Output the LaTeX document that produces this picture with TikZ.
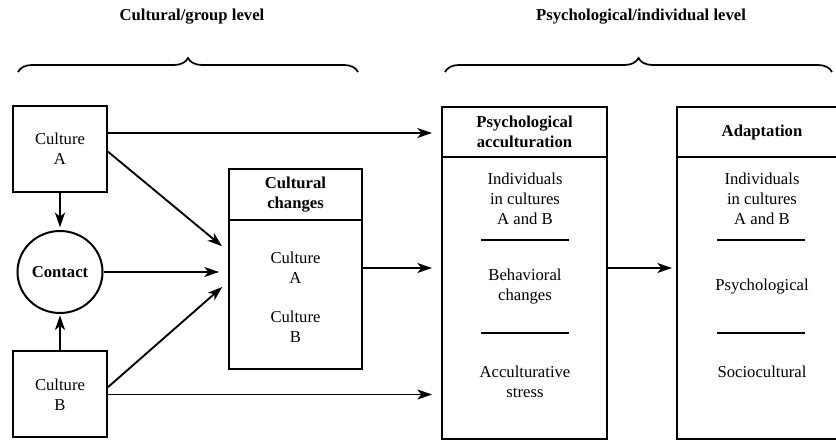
\documentclass[tikz,border=0pt]{standalone}
\usepackage{fontspec}
\setmainfont{Liberation Serif}
\usetikzlibrary{arrows.meta,shapes.geometric,decorations.pathreplacing}
\begin{document}
\begin{tikzpicture}[x=0.75pt,y=-0.75pt,
  txt/.style={align=center,font=\fontsize{12.5}{15}\selectfont,inner sep=0pt},
  btxt/.style={align=center,font=\fontsize{12.5}{15}\selectfont\bfseries,inner sep=0pt},
  box/.style={draw,line width=1.5pt,inner sep=0pt,align=center,font=\fontsize{12.5}{15}\selectfont},
  arr/.style={-{Stealth[length=11pt,width=7.5pt,inset=3pt]},line width=1.4pt},
  sepline/.style={line width=1.8pt},
  brc/.style={decorate,decoration={brace,amplitude=10.5pt},line width=1.3pt}]
\useasboundingbox (0,0) rectangle (836,441);
\clip (0,0) rectangle (836,441);
% titles
\node[btxt] (t1) at (192,17) {Cultural/group level};
\node[btxt] (t2) at (641,17) {Psychological/individual level};
\draw[brc] (18,72) -- (358,72);
\draw[brc] (445,72) -- (832,72);
% left column
\node[box,minimum width=70.5pt,minimum height=64.5pt] (A) at (60,149) {Culture\\A};
\node[box,minimum width=70.5pt,minimum height=64.5pt] (B) at (60,394.5) {Culture\\B};
\node[box,ellipse,minimum width=63.75pt,minimum height=61.5pt,font=\fontsize{12.5}{15}\selectfont\bfseries] (C) at (60,272) {Contact};
% cultural changes
\node[box,minimum width=99.75pt,minimum height=38.25pt,font=\fontsize{12.5}{15}\selectfont\bfseries] (CCh) at (295.5,194.5) {Cultural\\changes};
\node[box,minimum width=99.75pt,minimum height=111.75pt] (CCb) at (295.5,294.5) {};
\node[txt] (CA) at (295.5,268) {Culture\\A};
\node[txt] (CB) at (295.5,327) {Culture\\B};
% psychological acculturation
\node[box,minimum width=123.75pt,minimum height=37.5pt,font=\fontsize{12.5}{15}\selectfont\bfseries] (Ph) at (524.5,132) {Psychological\\acculturation};
\node[box,minimum width=123.75pt,minimum height=211.5pt] (Pb) at (524.5,298) {};
\node[txt] (P1) at (525,199) {Individuals\\in cultures\\A and B};
\node[txt] (P2) at (525,287) {Behavioral\\changes};
\node[txt] (P3) at (525,382) {Acculturative\\stress};
\draw[sepline] (481,240) -- (569,240);
\draw[sepline] (481,333) -- (569,333);
% adaptation
\node[box,minimum width=127.5pt,minimum height=37.5pt,font=\fontsize{12.5}{15}\selectfont\bfseries] (Ah) at (762,132) {Adaptation};
\node[box,minimum width=127.5pt,minimum height=211.5pt] (Ab) at (762,298) {};
\node[txt] (D1) at (762,199) {Individuals\\in cultures\\A and B};
\node[txt] (D2) at (762,287) {Psychological};
\node[txt] (D3) at (762,372) {Sociocultural};
\draw[sepline] (717,240) -- (805,240);
\draw[sepline] (717,333) -- (805,333);
% connectors
\coordinate (inA) at (229,252);
\coordinate (inB) at (229,281);
\draw[arr,shorten >=2pt] (A) -- (C);
\draw[arr,shorten >=1pt] (B) -- (C);
\draw[arr,shorten >=6.75pt] (C.east) -- (C.east -| CCb.west);
\draw[arr,shorten >=6.75pt] ([yshift=-2pt]A.east) -- (inA);
\draw[arr,shorten >=6.75pt] ([yshift=5.5pt]B.east) -- (inB);
\draw[arr,shorten >=6.75pt] ([yshift=12pt]A.east) -- ([yshift=12pt]A.east -| Ph.west);
\draw[arr,shorten >=6.75pt] (B.east) -- (B.east -| Pb.west);
\draw[arr,shorten >=6.75pt] (CA -| CCb.east) -- (CA -| Pb.west);
\draw[arr,shorten >=3pt] (CA -| Pb.east) -- (CA -| Ab.west);
\end{tikzpicture}
\end{document}
